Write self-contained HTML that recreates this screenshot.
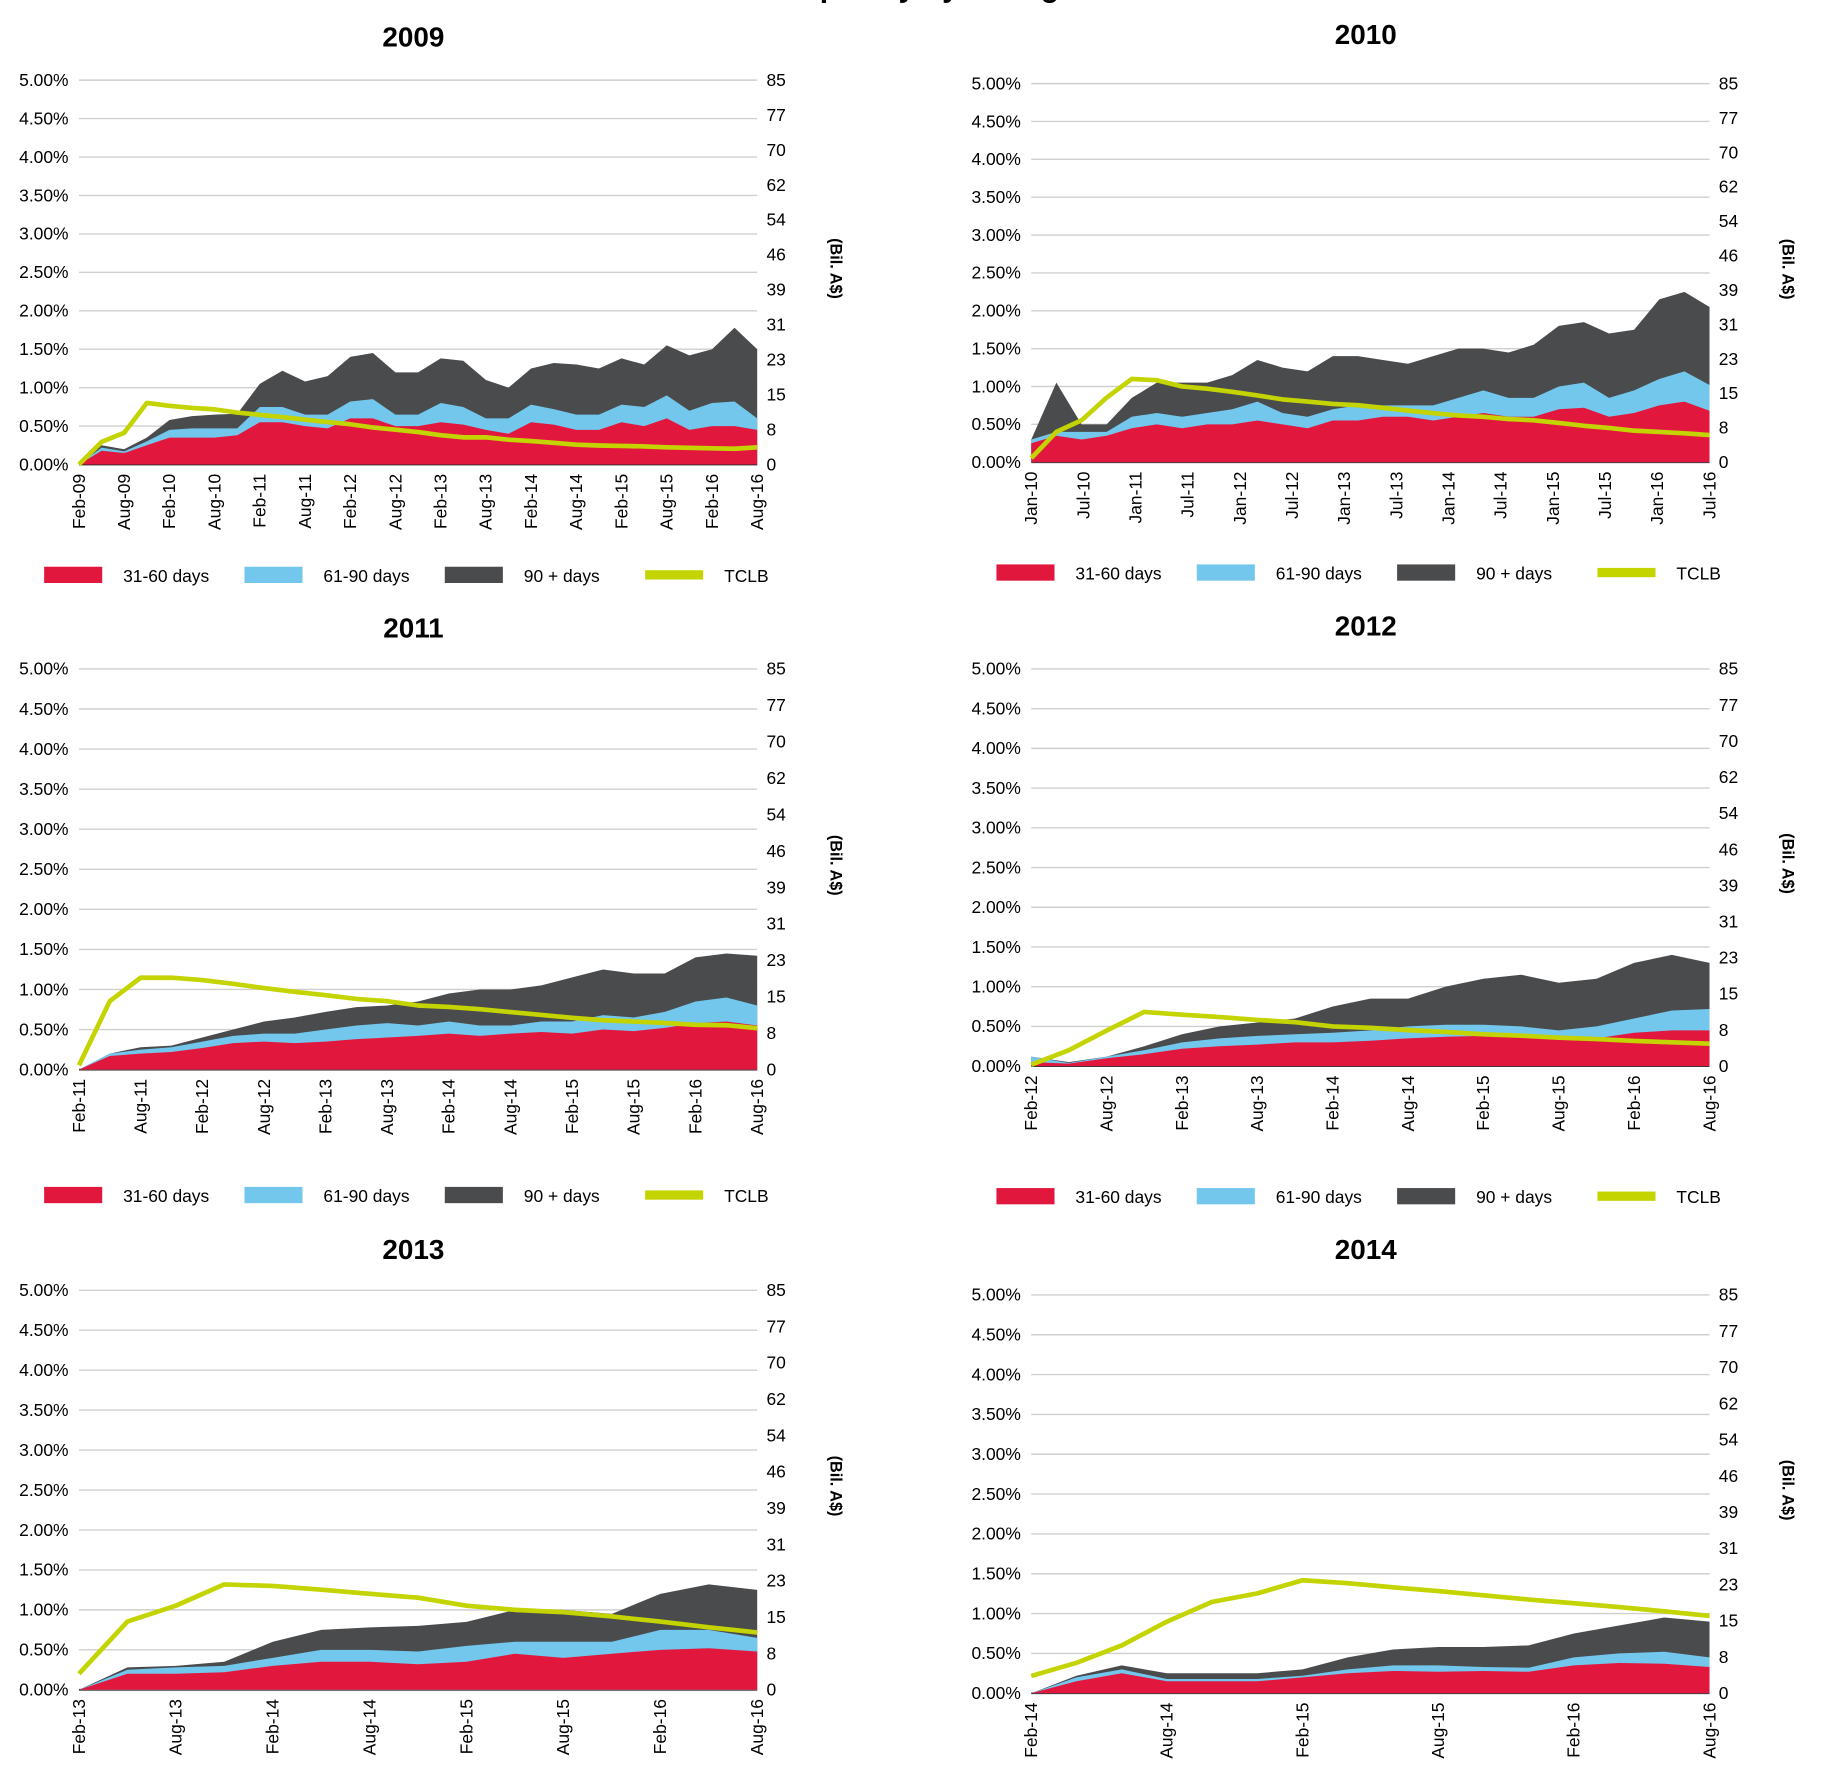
<!DOCTYPE html>
<html><head><meta charset="utf-8"><style>
html,body{margin:0;padding:0;background:#fff;width:1821px;height:1785px;overflow:hidden}
svg{display:block;font-family:"Liberation Sans",Arial,sans-serif}
</style></head><body>
<svg id="root" width="1821" height="1785" viewBox="0 0 1568 1537" preserveAspectRatio="none" xmlns="http://www.w3.org/2000/svg">
<text x="780" y="-3" text-anchor="middle" font-size="26" font-weight="bold">Delinquency by Vintage</text>
</svg>
<script>
const pctTicks = ["0.00%","0.50%","1.00%","1.50%","2.00%","2.50%","3.00%","3.50%","4.00%","4.50%","5.00%"];
const bilTicks = ["0","8","15","23","31","39","46","54","62","70","77","85"];

const x2009 = ["Feb-09","Aug-09","Feb-10","Aug-10","Feb-11","Aug-11","Feb-12","Aug-12","Feb-13","Aug-13","Feb-14","Aug-14","Feb-15","Aug-15","Feb-16","Aug-16"];
const red2009 = [0,.18,.15,.25,.35,.35,.35,.38,.55,.55,.5,.47,.6,.6,.5,.5,.55,.52,.45,.4,.55,.52,.45,.45,.55,.5,.6,.45,.5,.5,.45];
const blue2009 = [0,.22,.17,.3,.45,.47,.47,.47,.75,.75,.65,.65,.82,.85,.65,.65,.8,.75,.6,.6,.78,.72,.65,.65,.78,.75,.9,.7,.8,.82,.6];
const dark2009 = [0,.25,.2,.35,.58,.63,.65,.66,1.05,1.22,1.08,1.15,1.4,1.45,1.2,1.2,1.38,1.35,1.1,1.0,1.25,1.32,1.3,1.25,1.38,1.3,1.55,1.42,1.5,1.78,1.5];
const tclb2009 = [0,5,7,13.6,13,12.5,12.2,11.5,11,10.5,9.9,9.4,8.9,8.2,7.7,7.2,6.5,6,6,5.5,5.2,4.8,4.4,4.2,4.1,4,3.8,3.7,3.6,3.5,3.8];

const x2010 = ["Jan-10","Jul-10","Jan-11","Jul-11","Jan-12","Jul-12","Jan-13","Jul-13","Jan-14","Jul-14","Jan-15","Jul-15","Jan-16","Jul-16"];
const red2010 = [.25,.35,.3,.35,.45,.5,.45,.5,.5,.55,.5,.45,.55,.55,.6,.6,.55,.6,.65,.6,.6,.7,.72,.6,.65,.75,.8,.68];
const blue2010 = [.3,.4,.4,.4,.6,.65,.6,.65,.7,.8,.65,.6,.7,.75,.75,.75,.75,.85,.95,.85,.85,1.0,1.05,.85,.95,1.1,1.2,1.02];
const dark2010 = [.3,1.05,.5,.5,.85,1.05,1.05,1.05,1.15,1.35,1.25,1.2,1.4,1.4,1.35,1.3,1.4,1.5,1.5,1.45,1.55,1.8,1.85,1.7,1.75,2.15,2.25,2.05];
const tclb2010 = [0.9,6.8,9.4,14.5,18.7,18.4,17,16.5,15.8,15,14.1,13.6,13.1,12.8,12.2,11.6,11,10.5,10.2,9.7,9.4,8.8,8.2,7.7,7.1,6.8,6.5,6.1];

const x2011 = ["Feb-11","Aug-11","Feb-12","Aug-12","Feb-13","Aug-13","Feb-14","Aug-14","Feb-15","Aug-15","Feb-16","Aug-16"];
const red2011 = [0,.17,.2,.22,.27,.33,.35,.33,.35,.38,.4,.42,.45,.42,.45,.47,.45,.5,.48,.52,.58,.6,.55];
const blue2011 = [0,.2,.25,.28,.35,.42,.45,.45,.5,.55,.58,.55,.6,.55,.55,.6,.6,.68,.65,.72,.85,.9,.8];
const dark2011 = [0,.2,.28,.3,.4,.5,.6,.65,.72,.78,.8,.85,.95,1.0,1.0,1.05,1.15,1.25,1.2,1.2,1.4,1.45,1.42];
const tclb2011 = [.9,14.5,19.5,19.5,19,18.2,17.3,16.5,15.8,15,14.5,13.6,13.3,12.8,12.2,11.6,11,10.5,10.2,9.9,9.5,9.4,8.8];

const x2012 = ["Feb-12","Aug-12","Feb-13","Aug-13","Feb-14","Aug-14","Feb-15","Aug-15","Feb-16","Aug-16"];
const red2012 = [.05,.03,.1,.15,.22,.25,.27,.3,.3,.32,.35,.37,.38,.38,.37,.35,.42,.45,.45];
const blue2012 = [.12,.04,.12,.2,.3,.35,.38,.4,.42,.45,.5,.52,.52,.5,.45,.5,.6,.7,.72];
const dark2012 = [.12,.05,.12,.25,.4,.5,.55,.6,.75,.85,.85,1.0,1.1,1.15,1.05,1.1,1.3,1.4,1.3];
const tclb2012 = [.3,3.4,7.6,11.6,11,10.5,9.9,9.4,8.5,8.2,7.7,7.3,6.8,6.5,6.1,5.8,5.4,5.1,4.8];

const x2013 = ["Feb-13","Aug-13","Feb-14","Aug-14","Feb-15","Aug-15","Feb-16","Aug-16"];
const red2013 = [0,.2,.2,.22,.3,.35,.35,.32,.35,.45,.4,.45,.5,.52,.48];
const blue2013 = [0,.25,.28,.3,.4,.5,.5,.48,.55,.6,.6,.6,.75,.75,.65];
const dark2013 = [0,.28,.3,.35,.6,.75,.78,.8,.85,1.0,1.0,.95,1.2,1.32,1.25];
const tclb2013 = [3.4,14.5,17.9,22.4,22.1,21.3,20.4,19.6,17.9,17,16.5,15.6,14.5,13.3,12.2];

const x2014 = ["Feb-14","Aug-14","Feb-15","Aug-15","Feb-16","Aug-16"];
const red2014 = [0,.15,.25,.15,.15,.15,.2,.25,.28,.27,.28,.27,.35,.38,.37,.33];
const blue2014 = [0,.2,.3,.18,.18,.18,.22,.3,.35,.35,.33,.32,.45,.5,.52,.45];
const dark2014 = [0,.22,.35,.25,.25,.25,.3,.45,.55,.58,.58,.6,.75,.85,.95,.9];
const tclb2014 = [3.7,6.5,10.2,15.3,19.5,21.3,24.1,23.5,22.6,21.8,20.9,20,19.2,18.4,17.5,16.5];

const NS = "http://www.w3.org/2000/svg";
const root = document.getElementById('root');
function mk(tag, attrs, parent, text){
  const e = document.createElementNS(NS, tag);
  for (const k in attrs) e.setAttribute(k, attrs[k]);
  if (text !== undefined) e.textContent = text;
  parent.appendChild(e);
  return e;
}
const panels = [
  {title:"2009", L:68, R:652, T:69, B:400, ty:32, leg:495, xl:x2009, red:red2009, blue:blue2009, dark:dark2009, tclb:tclb2009},
  {title:"2010", L:888, R:1472, T:72, B:398, ty:30, leg:493, xl:x2010, red:red2010, blue:blue2010, dark:dark2010, tclb:tclb2010},
  {title:"2011", L:68, R:652, T:576, B:921, ty:541, leg:1029, xl:x2011, red:red2011, blue:blue2011, dark:dark2011, tclb:tclb2011},
  {title:"2012", L:888, R:1472, T:576, B:918, ty:539, leg:1030, xl:x2012, red:red2012, blue:blue2012, dark:dark2012, tclb:tclb2012},
  {title:"2013", L:68, R:652, T:1111, B:1455, ty:1076, leg:0, xl:x2013, red:red2013, blue:blue2013, dark:dark2013, tclb:tclb2013, noLeg:true},
  {title:"2014", L:888, R:1472, T:1115, B:1458, ty:1076, leg:0, xl:x2014, red:red2014, blue:blue2014, dark:dark2014, tclb:tclb2014, noLeg:true}
];
panels.forEach(p => {
  const g = mk('g', {}, root);
  
  
  const W = p.R - p.L, H = p.B - p.T;
  const yP = v => p.B - v / 5 * H;
  const yB = v => p.B - v / 85 * H;
  const xI = (i, n) => p.L + i / (n - 1) * W;
  const t = mk('text', {x: (p.L + p.R) / 2 - 4, y: p.ty + 8, 'text-anchor': 'middle', 'font-size': 24, 'font-weight': 'bold'}, g, p.title);
  
  
  pctTicks.forEach((lab, i) => {
    const v = i * 0.5;
    const ln = mk('line', {x1: p.L, x2: p.R, y1: yP(v), y2: yP(v), stroke: i === 0 ? '#222' : '#cfcfcf', 'stroke-width': i === 0 ? 1.5 : 1.2}, g);
    
    
    const tx = mk('text', {x: p.L - 9, y: yP(v) + 5, 'text-anchor': 'end', 'font-size': 15}, g, lab);
    
    
  });
  bilTicks.forEach((lab, i) => {
    const y = p.B - i / (bilTicks.length - 1) * H;
    const tx = mk('text', {x: p.R + 8, y: y + 5, 'font-size': 15}, g, lab);
    
    
  });
  const bl = mk('text', {x: 0, y: 0, 'font-size': 14, 'font-weight': 'bold', 'text-anchor': 'middle', transform: `translate(${p.R + 63},${p.T + H * 0.49}) rotate(90)`}, g, '(Bil. A$)');
  
  
  function area(arr, color, name){
    const n = arr.length;
    let d = `M${p.L},${p.B}`;
    arr.forEach((v, i) => { d += ` L${xI(i, n).toFixed(1)},${yP(v).toFixed(1)}`; });
    d += ` L${p.R},${p.B} Z`;
    const a = mk('path', {d: d, fill: color}, g);
    
    
  }
  area(p.dark, '#4a4b4d', 'area-90-plus-days');
  area(p.blue, '#73c6ec', 'area-61-90-days');
  area(p.red, '#e2173e', 'area-31-60-days');
  const n = p.tclb.length;
  const pts = p.tclb.map((v, i) => `${xI(i, n).toFixed(1)},${yB(v).toFixed(1)}`).join(' ');
  const pl = mk('polyline', {points: pts, fill: 'none', stroke: '#c3d400', 'stroke-width': 4, 'stroke-linejoin': 'round'}, g);
  
  
  const m = p.xl.length;
  p.xl.forEach((lab, i) => {
    const x = p.L + i / (m - 1) * W;
    const tx = mk('text', {x: 0, y: 0, 'font-size': 15, 'text-anchor': 'end', transform: `translate(${x + 5},${p.B + 8}) rotate(-90)`}, g, lab);
    
    
  });
  if (!p.noLeg) {
    const off = p.L - 68;
    const items = [['31-60 days', '#e2173e', 14], ['61-90 days', '#73c6ec', 14], ['90 + days', '#4a4b4d', 14], ['TCLB', '#c3d400', 8]];
    items.forEach((it, i) => {
      const x0 = 38 + off + i * 172.5;
      const r = mk('rect', {x: x0, y: p.leg - it[2] / 2, width: 50, height: it[2], fill: it[1]}, g);
      
      
      const tx = mk('text', {x: x0 + 68, y: p.leg + 6, 'font-size': 15}, g, it[0]);
      
      
    });
  }
});
</script>
</body></html>
